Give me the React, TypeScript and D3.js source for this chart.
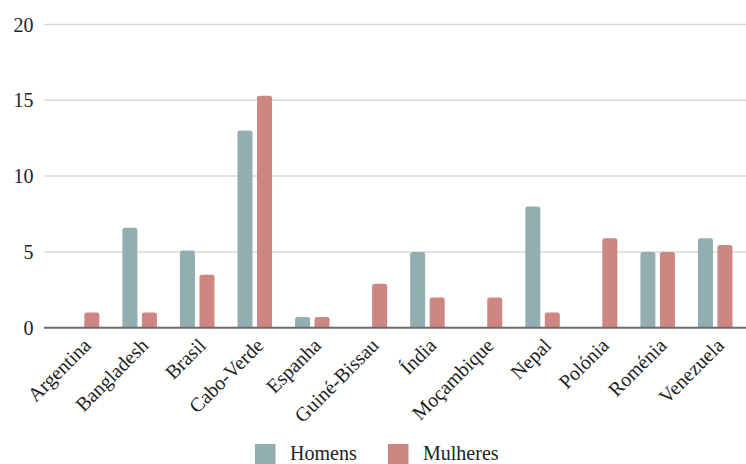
import React from "react";
import * as d3 from "d3";

const countries = ["Argentina", "Bangladesh", "Brasil", "Cabo-Verde", "Espanha", "Guiné-Bissau", "Índia", "Moçambique", "Nepal", "Polónia", "Roménia", "Venezuela"];
const homens = [0, 6.6, 5.1, 13.0, 0.7, 0, 5.0, 0, 8.0, 0, 5.0, 5.9];
const mulheres = [1.0, 1.0, 3.5, 15.3, 0.7, 2.9, 2.0, 2.0, 1.0, 5.9, 5.0, 5.45];
const seriesNames = ["Homens", "Mulheres"];
const yTicks = [0, 5, 10, 15, 20];

const W = 746;
const H = 464;
const colors: Record<string, string> = { Homens: "#93aeb1", Mulheres: "#cd8681" };

function topRounded(x: number, y: number, w: number, h: number, r: number) {
  if (h <= 0) return "";
  const rr = Math.min(r, h, w / 2);
  return `M${x},${y + h}V${y + rr}Q${x},${y} ${x + rr},${y}H${x + w - rr}Q${x + w},${y} ${x + w},${y + rr}V${y + h}Z`;
}

export default function App() {
  const y = d3.scaleLinear().domain([0, 20]).range([327.7, 24.5]);
  const x0 = d3.scaleBand<string>().domain(countries).range([53.3, 744]).paddingInner(0.4).paddingOuter(0.2);
  const x1 = d3.scaleBand<string>().domain(seriesNames).range([0, x0.bandwidth()]).paddingInner(0.23);
  const data: Record<string, number[]> = { Homens: homens, Mulheres: mulheres };
  const gridLeft = 44;
  const gridRight = 746;

  return (
    <div style={{ position: "absolute", left: 0, top: 0, fontFamily: '"Times New Roman", "Liberation Serif", serif' }}>
      <svg width={W} height={H} style={{ display: "block", background: "#fff" }} fontFamily="Times New Roman, Liberation Serif, serif" fontSize={20}>
        <style>{`.lbl { font-family: "Times New Roman", "Liberation Serif", serif; font-size: 20px; fill: #222; }`}</style>
        {yTicks.map((t) => (
          <g key={t}>
            {t !== 0 && (
              <line x1={gridLeft} x2={gridRight} y1={y(t)} y2={y(t)} stroke="#d9d9d9" strokeWidth={1.5} />
            )}
            <text className="lbl" x={33.5} y={y(t)} dy="0.35em" textAnchor="end">
              {t}
            </text>
          </g>
        ))}
        {countries.map((c, i) => (
          <g key={c}>
            {seriesNames.map((s) => {
              const v = data[s][i];
              const bx = (x0(c) as number) + (x1(s) as number);
              const by = y(v);
              return (
                <path key={s} d={topRounded(bx, by, x1.bandwidth(), y(0) - by, 2.5)} fill={colors[s]} />
              );
            })}
          </g>
        ))}
        <line x1={gridLeft} x2={gridRight} y1={y(0)} y2={y(0)} stroke="#6b6b6b" strokeWidth={2} />
        {countries.map((c) => {
          const cx = (x0(c) as number) + x0.bandwidth() / 2;
          return (
            <text
              key={c}
              className="lbl"
              transform={`translate(${cx + 10},${y(0) + 19}) rotate(-45)`}
              textAnchor="end"
            >
              {c}
            </text>
          );
        })}
        {seriesNames.map((s, i) => {
          const lx = i === 0 ? 255 : 388;
          return (
            <g key={s}>
              <rect x={lx} y={444} width={20.5} height={20} fill={colors[s]} />
              <text className="lbl" x={lx + 35} y={460}>
                {s}
              </text>
            </g>
          );
        })}
      </svg>
    </div>
  );
}
